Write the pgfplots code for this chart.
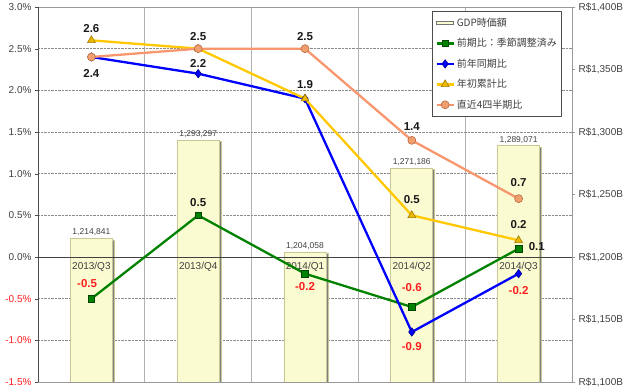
\documentclass[border=0pt]{standalone}
\usepackage{pgfplots}
\pgfplotsset{compat=1.18}
\usepackage{pgfplotstable}
\usepackage{fontspec}
\setmainfont{Liberation Sans}
\newfontfamily\jp{Noto Sans CJK JP}
\definecolor{barfill}{RGB}{251,251,210}
\definecolor{baredge}{RGB}{200,200,150}
\definecolor{txt}{RGB}{64,64,64}
\definecolor{negred}{RGB}{255,30,30}
\definecolor{gline}{RGB}{0,130,0}
\definecolor{gmark}{RGB}{0,70,0}
\definecolor{bline}{RGB}{0,0,255}
\definecolor{bmark}{RGB}{0,0,140}
\definecolor{yline}{RGB}{255,200,0}
\definecolor{yfill}{RGB}{235,185,0}
\definecolor{ymark}{RGB}{160,120,0}
\definecolor{oline}{RGB}{248,150,110}
\definecolor{ofill}{RGB}{240,160,110}
\definecolor{omark}{RGB}{185,105,65}

\pgfplotstableread{
x gdp
0 1214841
1 1293297
2 1204058
3 1271186
4 1289071
}\gdp

\pgfplotstableread{
x qoq yoy ytd four
0 -0.5 2.4 2.6 2.4
1 0.5 2.2 2.5 2.5
2 -0.2 1.9 1.9 2.5
3 -0.6 -0.9 0.5 1.4
4 0.1 -0.2 0.2 0.7
}\rates

\pgfplotsset{base/.style={
  at={(38pt,8pt)}, anchor=south west, scale only axis,
  width=534pt, height=375pt, xmin=-0.5, xmax=4.5,
  tick label style={font=\fontsize{10}{12}\selectfont, color=txt},
  /pgf/number format/assume math mode=true,
}}

\begin{document}
\begin{tikzpicture}
\useasboundingbox (0,0) rectangle (630pt,390pt);
% ---------- grid only (left scale) ----------
\begin{axis}[base, ymin=-1.5, ymax=3,
  axis line style={draw=none},
  xtick={0.5,1.5,2.5,3.5}, xticklabels={}, xtick style={draw=none},
  xmajorgrids, x grid style={black!30, line width=0.6pt},
  ytick={-1.5,-1,...,3}, yticklabels={}, ytick style={draw=none},
  ymajorgrids, y grid style={black!45, densely dotted, line width=0.6pt},
]
\end{axis}
% ---------- right axis: bars ----------
\begin{axis}[base,
  ymin=1100000, ymax=1400000,
  axis line style={draw=black!40},
  xtick=\empty,
  ytick={1100000,1150000,1200000,1250000,1300000,1350000,1400000},
  yticklabels={{R\$1,100B},{R\$1,150B},{R\$1,200B},{R\$1,250B},{R\$1,300B},{R\$1,350B},{R\$1,400B}},
  ytick pos=right, yticklabel pos=right,
  ytick style={black!40}, tick align=outside, major tick length=3pt,
]
\addplot[ybar, bar width=42pt, draw=baredge, line width=0.8pt, fill=barfill,
  preaction={fill=black!50, transform canvas={xshift=2pt, yshift=-1.5pt}},
  nodes near coords, point meta=y,
  every node near coord/.append style={font=\fontsize{8.5}{10}\selectfont, color=txt, inner sep=2pt,
    /pgf/number format/fixed, /pgf/number format/precision=0, /pgf/number format/1000 sep={,}},
] table[x=x, y=gdp] {\gdp};
\node[font=\fontsize{10}{12}\selectfont, color=txt] at (axis cs:0,1192000) {2013/Q3};
\node[font=\fontsize{10}{12}\selectfont, color=txt] at (axis cs:1,1192000) {2013/Q4};
\node[font=\fontsize{10}{12}\selectfont, color=txt] at (axis cs:2,1192000) {2014/Q1};
\node[font=\fontsize{10}{12}\selectfont, color=txt] at (axis cs:3,1192000) {2014/Q2};
\node[font=\fontsize{10}{12}\selectfont, color=txt] at (axis cs:4,1192000) {2014/Q3};
\end{axis}
% ---------- left axis: lines ----------
\begin{axis}[base, ymin=-1.5, ymax=3,
  axis x line=none, axis y line*=left,
  axis line style={draw=black!70, line width=0.7pt},
  xtick=\empty,
  ytick={-1.5,-1,-0.5,0,0.5,1,1.5,2,2.5,3},
  yticklabels={\textcolor{negred}{-1.5\%},\textcolor{negred}{-1.0\%},\textcolor{negred}{-0.5\%},0.0\%,0.5\%,1.0\%,1.5\%,2.0\%,2.5\%,3.0\%},
  tick align=outside, major tick length=3pt, ytick style={black!70},
  extra y ticks={0}, extra y tick labels={},
  extra y tick style={ymajorgrids, major grid style={solid, black!75, line width=0.8pt}, major tick length=0pt},
  legend cell align=left,
  legend style={at={(0.738,0.99)}, anchor=north west, draw=black!70, fill=white,
    font=\jp\fontsize{10}{12}\selectfont, text=txt, row sep=6.5pt, inner xsep=3pt, inner ysep=5pt,
    line width=0.7pt},
  every axis plot/.append style={line width=2.3pt},
]
\addlegendimage{legend image code/.code={\draw[fill=barfill, draw=black!55, line width=0.5pt] (0cm,-0.05cm) rectangle (0.6cm,0.05cm);}}
\addlegendentry{GDP時価額}
\addplot[gline, mark=square*, mark size=3.3pt, mark options={fill=gline, draw=gmark, line width=0.6pt}] table[x=x, y=qoq] {\rates};
\addlegendentry{前期比：季節調整済み}
\addplot[bline, mark=diamond*, mark size=4.2pt, mark options={fill=bline, draw=bmark, line width=0.6pt}] table[x=x, y=yoy] {\rates};
\addlegendentry{前年同期比}
\addplot[yline, mark=triangle*, mark size=4.5pt, mark options={fill=yfill, draw=ymark, line width=0.6pt}] table[x=x, y=ytd] {\rates};
\addlegendentry{年初累計比}
\addplot[oline, mark=*, mark size=4pt, mark options={fill=ofill, draw=omark, line width=0.6pt}] table[x=x, y=four] {\rates};
\addlegendentry{直近4四半期比}
% data labels
\begin{scope}[every node/.style={font=\bfseries\fontsize{11.5}{13}\selectfont, text=black!90}]
\node at (axis cs:0,2.74) {2.6};
\node at (axis cs:0,2.20) {2.4};
\node at (axis cs:1,2.65) {2.5};
\node at (axis cs:1,2.32) {2.2};
\node at (axis cs:2,2.65) {2.5};
\node at (axis cs:2,2.07) {1.9};
\node at (axis cs:3,1.57) {1.4};
\node at (axis cs:3,0.69) {0.5};
\node at (axis cs:4,0.89) {0.7};
\node at (axis cs:4,0.39) {0.2};
\node at (axis cs:4.17,0.12) {0.1};
\node at (axis cs:1,0.65) {0.5};
\end{scope}
\begin{scope}[every node/.style={font=\bfseries\fontsize{11.5}{13}\selectfont, text=negred}]
\node at (axis cs:-0.04,-0.32) {-0.5};
\node at (axis cs:2,-0.36) {-0.2};
\node at (axis cs:3,-0.37) {-0.6};
\node at (axis cs:3,-1.07) {-0.9};
\node at (axis cs:4,-0.40) {-0.2};
\end{scope}
\end{axis}
\end{tikzpicture}
\end{document}
